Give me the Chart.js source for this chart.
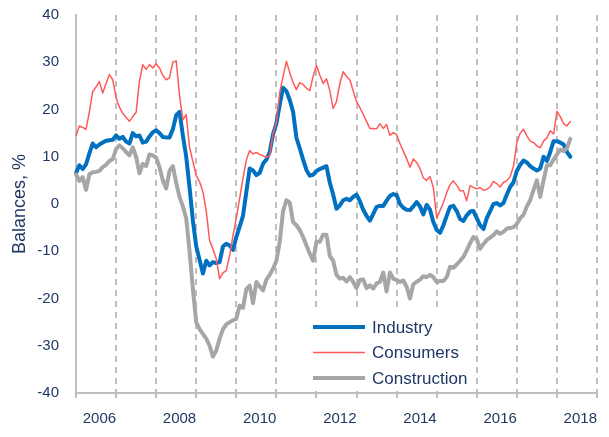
<!DOCTYPE html>
<html>
<head>
<meta charset="utf-8">
<script src="https://cdn.jsdelivr.net/npm/chart.js@4.4.1/dist/chart.umd.min.js"></script>
<style>
  html, body { margin: 0; padding: 0; background: #fff; }
  #wrap { position: relative; width: 609px; height: 437px; }
</style>
</head>
<body>
<div id="wrap"><canvas id="balanceChart"></canvas></div>
<script>
// monthly balances, Jan 2006 - May 2018
const industry = [
  6.5, 8.2, 7.4, 8.4, 10.7, 12.8, 12, 12.6, 13, 13.4, 13.5, 13.6,
  14.5, 13.8, 14.2, 13.2, 12.8, 15, 14.3, 14.5, 13, 13.2, 14.3, 15.2,
  15.6, 15, 14.2, 14.1, 14.1, 15.8, 18.8, 19.5, 14.5, 10, 3.5, -3.5,
  -9, -11.8, -14.7, -12, -13, -12.3, -12.5, -12.3, -9, -8.4, -8.8, -9.7,
  -7, -4.8, -2.5, 2.5, 7.5, 7.1, 6.1, 6.6, 8.5, 9.4, 11, 14.8,
  17, 21, 24.6, 23.9, 22, 19.5, 14, 11.8, 9.4, 7.2, 6, 6.2,
  7, 7.4, 7.7, 8, 4.5, 2, -1, -0.3, 0.8, 1.1, 0.8, 1.5,
  2, 0.6, -1.2, -2.5, -3.5, -2.1, -0.6, -0.4, -0.4, 0.7, 1.7, 2.1,
  1.9, 0, -0.8, -1.2, -1.3, -0.5, 0.4, -0.5, -2.2, -0.2, -1.2, -3.8,
  -5.5, -6.1, -4.5, -2.5, -0.6, -0.4, -1.5, -3.2, -3.6, -2.4, -1.6, -1.5,
  -3, -4.5, -5.3, -3, -1.5, 0, 0.2, -0.3, 0.2, 2, 3.6, 4.6,
  7, 8.3, 9.2, 8.8, 8, 7.5, 7.1, 7.5, 10, 9.1, 11, 13.3,
  13.3, 13, 12.6, 11, 10
];
const consumers = [
  14.5, 16.5, 16.2, 15.8, 19.5, 23.8, 24.8, 25.9, 23.5, 25.5, 27.4, 26.3,
  22.5, 20.5, 19.2, 18.3, 17.5, 18.5, 19.4, 26, 29.5, 28.5, 29.5, 28.8,
  29.7, 28.8, 27.2, 26.3, 26.7, 30, 30.3, 23, 17.8, 18.9, 12, 9,
  6, 4.7, 2.6, -1.5, -7.7, -9.5, -11.6, -15.8, -14.6, -14.1, -10.9, -6.7,
  -3, 1.2, 5.5, 9.3, 11.3, 10.6, 10.9, 10.5, 10.2, 9.9, 10.2, 15,
  17.2, 23.6, 27, 30.2, 27.8, 25.7, 24.2, 25.7, 25.3, 24.5, 24, 27,
  29.3, 27.3, 25.5, 26.5, 24, 20.2, 21.7, 25.5, 28, 27, 26.3, 23.9,
  21.7, 20.4, 19, 17.5, 16, 16, 15.9, 17, 16, 16.8, 14.5, 15.1,
  14.7, 12.8, 11.2, 9.6, 7.8, 9.5, 8.8, 7.5, 5.5, 5, 5.8, 3.5,
  -3, -1.4, 0.3, 2.4, 4.1, 4.9, 4, 2.8, 2.8, 0.7, 3.9, 3.5,
  3.2, 3.5, 2.9, 3.1, 3.6, 4.8, 4.3, 3.6, 4.6, 4.9, 5.8, 8,
  13, 15, 15.8, 14.4, 13.3, 13, 12.3, 11.9, 13.3, 14, 15.5, 14.8,
  19.6, 18.5, 17, 16.5, 17.5
];
const construction = [
  6.3, 4.9, 5.7, 3, 6.3, 6.7, 6.8, 7, 7.8, 8.3, 9.1, 9.5,
  11.6, 12.4, 11.8, 11, 10.3, 12, 10, 6.5, 8.5, 8, 10.5, 10.3,
  9.8, 7.8, 5, 3.3, 7, 8, 4.5, 1.5, -0.5, -3, -10, -18,
  -25, -26.5, -27.5, -28.5, -30, -32.3, -31, -28.5, -26.5, -25.5, -25, -24.6,
  -24.3, -21.5, -22, -18, -17.3, -21, -16.5, -17.5, -18.3, -16, -15, -13.7,
  -12, -8, -1.5, 0.8, 0.3, -3.8, -4.5, -5.5, -7, -8.8, -10.5, -12,
  -8, -8, -6.5, -6.5, -11, -12, -15, -15.8, -15.6, -16.4, -15.5, -16.5,
  -17.8, -16.1, -16, -17.8, -17.2, -17.9, -16.8, -16.5, -14.5, -18.5, -14.5, -15.8,
  -16.1, -16.5, -16.2, -17.5, -20, -17, -16.5, -16, -15.3, -15.5, -15, -15.5,
  -16.5, -16.3, -16.3, -15.5, -13.3, -13.5, -12.8, -12, -11.2, -9.8, -8.3, -7,
  -7.5, -9.5, -8.5, -7.6, -7.1, -6.6, -5.8, -6.3, -5.9, -5.2, -5.1, -4.9,
  -4.2, -3, -2.3, -0.5, 0.8, 3, 5, 1.5, 5, 8.2, 8.2, 9.4,
  10.5, 11.5, 11.2, 11.8, 13.8
];

const seriesNames = ['Industry', 'Consumers', 'Construction'];
const yearLabels = ['2006', '2008', '2010', '2012', '2014', '2016', '2018'];

// one category per month, plus Jan 2019 to close the last year
const months = [];
for (let y = 2006; y <= 2018; y++) {
  for (let m = 1; m <= 12; m++) months.push(y + '-' + String(m).padStart(2, '0'));
}
months.push('2019-01');

const navy = '#1f3864';
const axisGrey = '#bfbfbf';

Chart.defaults.font.family = '"Liberation Sans", Arial, sans-serif';
Chart.defaults.font.size = 15;
Chart.defaults.color = navy;

// legend sits inside the plot, on a white box
const insideLegend = {
  id: 'insideLegend',
  afterDatasetsDraw(chart) {
    const ctx = chart.ctx;
    ctx.save();
    ctx.fillStyle = '#fff';
    ctx.fillRect(300, 312, 176, 79);
    chart.data.datasets.forEach((ds, i) => {
      const y = 327 + i * 25.5;
      ctx.strokeStyle = ds.borderColor;
      ctx.lineWidth = ds.borderWidth;
      ctx.beginPath();
      ctx.moveTo(313, y);
      ctx.lineTo(365, y);
      ctx.stroke();
      ctx.fillStyle = navy;
      ctx.font = '17px "Liberation Sans", Arial, sans-serif';
      ctx.textBaseline = 'middle';
      ctx.fillText(ds.label, 372, y + 1);
    });
    ctx.restore();
  }
};

const isYearStart = (c) => c.index % 12 === 0;

new Chart(document.getElementById('balanceChart'), {
  type: 'line',
  data: {
    labels: months,
    datasets: [
      { label: seriesNames[0], data: industry, borderColor: '#0070c0', borderWidth: 4, order: 3 },
      { label: seriesNames[1], data: consumers, borderColor: '#ff5a5a', borderWidth: 1.5, order: 2 },
      { label: seriesNames[2], data: construction, borderColor: '#a6a6a6', borderWidth: 4, order: 1 }
    ]
  },
  options: {
    responsive: true,
    maintainAspectRatio: false,
    animation: false,
    layout: { padding: { left: 0, top: 15, right: 3, bottom: 0 } },
    elements: {
      point: { radius: 0 },
      line: { tension: 0, borderJoinStyle: 'round', borderCapStyle: 'round' }
    },
    plugins: {
      legend: { display: false },
      tooltip: { enabled: false }
    },
    scales: {
      x: {
        type: 'category',
        offset: false,
        afterFit: (s) => { s.height = 44; },
        border: { color: axisGrey, width: 2, dash: [6, 5] },
        grid: {
          color: (c) => (c.index > 0 && isYearStart(c)) ? axisGrey : 'rgba(0,0,0,0)',
          tickColor: (c) => isYearStart(c) ? axisGrey : 'rgba(0,0,0,0)',
          lineWidth: (c) => isYearStart(c) ? 2 : 0,
          tickWidth: (c) => isYearStart(c) ? 2 : 0,
          tickBorderDash: [],
          tickLength: 5
        },
        ticks: {
          autoSkip: false,
          maxRotation: 0,
          padding: 12,
          color: navy,
          callback: function(val, idx) {
            const lab = months[idx];
            const yr = lab.slice(0, 4);
            return (lab.endsWith('-08') && yearLabels.includes(yr)) ? yr : '';
          }
        }
      },
      y: {
        min: -40,
        max: 40,
        // fixed axis width; drop the label padding so the plot reaches the top
        afterFit: (s) => { s.width = 76; s.paddingTop = 0; s.paddingBottom = 0; },
        border: { color: axisGrey, width: 2 },
        grid: { display: false, drawTicks: false },
        ticks: { stepSize: 10, padding: 17, color: navy },
        title: {
          display: true,
          text: 'Balances, %',
          color: navy,
          font: { size: 18 },
          padding: { top: 9, bottom: 0 }
        }
      }
    }
  },
  plugins: [insideLegend]
});
</script>
</body>
</html>
